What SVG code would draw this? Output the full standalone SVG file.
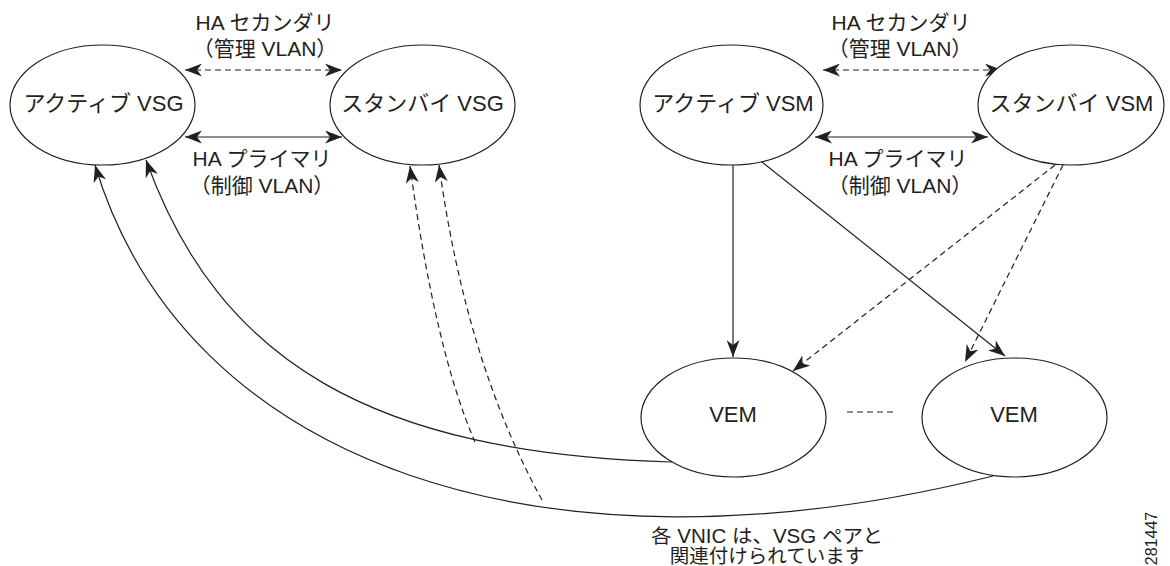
<svg xmlns="http://www.w3.org/2000/svg" width="1170" height="566" viewBox="0 0 1170 566">
<defs>
<marker id="ah" viewBox="0 0 17 13" refX="17" refY="6.5" markerWidth="17" markerHeight="13" markerUnits="userSpaceOnUse" orient="auto-start-reverse">
<path d="M0,0 L17,6.5 L0,13 L5,6.5 Z" fill="#231f20"/>
</marker>
<style>
.node ellipse{fill:#fff;stroke:#231f20;stroke-width:1.2}
text{font-family:"Liberation Sans","Noto Sans CJK JP",sans-serif;fill:#231f20}
.nt{font-size:22px;text-anchor:middle}
.lb{font-size:21px;text-anchor:middle}
.bt{font-size:19.5px;text-anchor:middle}
.ln{fill:none;stroke:#231f20;stroke-width:1.2}
.dash{stroke-dasharray:6 4}
</style>
</defs>
<rect width="1170" height="566" fill="#fff"/>

<g id="connectors">
<line class="ln dash" x1="185" y1="70" x2="342" y2="70" marker-start="url(#ah)" marker-end="url(#ah)"/>
<line class="ln" x1="185" y1="137" x2="342" y2="137" marker-start="url(#ah)" marker-end="url(#ah)"/>
<line class="ln dash" x1="823" y1="70" x2="1002" y2="70" marker-start="url(#ah)" marker-end="url(#ah)"/>
<line class="ln" x1="815" y1="137" x2="988" y2="137" marker-start="url(#ah)" marker-end="url(#ah)"/>
<line class="ln" x1="733" y1="165" x2="733" y2="357" marker-end="url(#ah)"/>
<line class="ln" x1="762" y1="162" x2="1005" y2="356" marker-end="url(#ah)"/>
<line class="ln dash" x1="1055" y1="165" x2="793" y2="371" marker-end="url(#ah)"/>
<line class="ln dash" x1="1063" y1="165" x2="965" y2="362" marker-end="url(#ah)"/>
<line class="ln dash" x1="847" y1="412" x2="895" y2="412"/>
<path class="ln" d="M672,462 C372,453 219,362 146,160" marker-end="url(#ah)"/>
<path class="ln" d="M993,476 C543,588 185,465 95,165" marker-end="url(#ah)"/>
<path class="ln dash" d="M475,442 Q435,350 410,166" marker-end="url(#ah)"/>
<path class="ln dash" d="M542,500 Q466,362 439,165" marker-end="url(#ah)"/>
</g>

<g id="active-vsg" class="node">
<ellipse cx="102.5" cy="105" rx="92.5" ry="60"/>
<text class="nt" x="103.5" y="111">アクティブ VSG</text>
</g>
<g id="standby-vsg" class="node">
<ellipse cx="422.5" cy="105" rx="92.5" ry="60"/>
<text class="nt" x="422.5" y="111">スタンバイ VSG</text>
</g>
<g id="active-vsm" class="node">
<ellipse cx="731.5" cy="105" rx="91.5" ry="60"/>
<text class="nt" x="733" y="111">アクティブ VSM</text>
</g>
<g id="standby-vsm" class="node">
<ellipse cx="1071" cy="105" rx="93" ry="60"/>
<text class="nt" x="1071.5" y="111">スタンバイ VSM</text>
</g>
<g id="vem1" class="node">
<ellipse cx="733.5" cy="417.5" rx="92.5" ry="59.5"/>
<text class="nt" x="733" y="422">VEM</text>
</g>
<g id="vem2" class="node">
<ellipse cx="1014.5" cy="417.5" rx="92.5" ry="59.5"/>
<text class="nt" x="1014" y="422">VEM</text>
</g>

<g id="labels">
<text class="lb" x="265" y="30">HA セカンダリ</text>
<text class="lb" x="265" y="56">（管理 VLAN）</text>
<text class="lb" x="262" y="166">HA プライマリ</text>
<text class="lb" x="262" y="193">（制御 VLAN）</text>
<text class="lb" x="901" y="30">HA セカンダリ</text>
<text class="lb" x="900" y="56">（管理 VLAN）</text>
<text class="lb" x="898" y="166">HA プライマリ</text>
<text class="lb" x="900" y="193">（制御 VLAN）</text>
<text class="bt" x="767" y="543" textLength="232" lengthAdjust="spacingAndGlyphs">各 VNIC は、VSG ペアと</text>
<text class="bt" x="767" y="563">関連付けられています</text>
<text x="0" y="0" font-size="16" text-anchor="middle" transform="translate(1157,538.5) rotate(-90)">281447</text>
</g>
</svg>
